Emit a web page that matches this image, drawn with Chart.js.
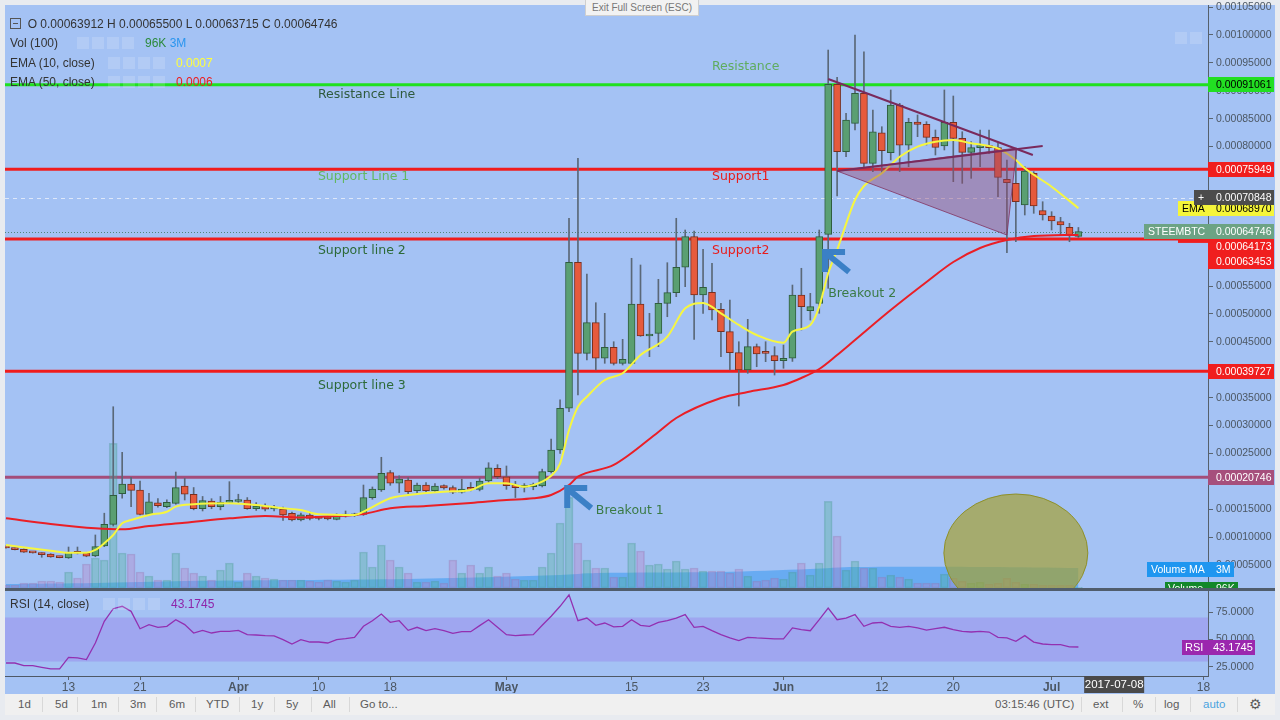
<!DOCTYPE html>
<html>
<head>
<meta charset="utf-8">
<script src="https://cdn.jsdelivr.net/npm/chart.js@4.4.0/dist/chart.umd.min.js"></script>
<style>
body { margin: 0; width: 1280px; height: 720px; background: #e8ebf0; overflow: hidden; position: relative; font-family: "Liberation Sans", Arial, sans-serif; }
#frame { position: absolute; left: 5px; top: 5px; width: 1270px; height: 689px; background: #a4c2f4; }
#mainChart { position: absolute; left: 0; top: 0; }
#rsiChart { position: absolute; left: 0; top: 590px; }
#divider { position: absolute; left: 5px; top: 588px; width: 1270px; height: 3px; background: #505d6c; }
.lg { position: absolute; font-size: 12px; line-height: 14px; color: #333; white-space: nowrap; }
.ic { position: absolute; width: 12px; height: 12px; background: rgba(255,255,255,0.16); }
#toolbar { position: absolute; left: 5px; top: 694px; width: 1270px; height: 21px; background: #f0f0f0; }
.tb { position: absolute; top: 4px; font-size: 11.5px; color: #5c5c5c; }
.sep { position: absolute; top: 3px; width: 1px; height: 15px; background: #d8d8d8; }
#exit { position: absolute; left: 585px; top: 0; width: 112px; height: 15px; background: #f2f2f2; border: 1px solid #cfcfcf; border-top: none; font-size: 10px; color: #777; text-align: center; line-height: 15px; }
</style>
</head>
<body>
<div id="frame"></div>
<canvas id="mainChart" width="1280" height="590"></canvas>
<canvas id="rsiChart" width="1280" height="103"></canvas>
<div id="divider"></div>
<div id="exit">Exit Full Screen (ESC)</div>

<div class="lg" style="top:17px;left:10px"><span style="display:inline-block;width:9px;height:9px;border:1px solid #555;vertical-align:-1px;position:relative"><span style="position:absolute;left:2px;top:4px;width:5px;height:1px;background:#555"></span></span>&nbsp;&nbsp;O 0.00063912 H 0.00065500 L 0.00063715 C 0.00064746</div>
<div class="lg" style="top:36px;left:10px">Vol (100)</div>
<div class="ic" style="top:37px;left:77px"></div><div class="ic" style="top:37px;left:92px"></div><div class="ic" style="top:37px;left:107px"></div><div class="ic" style="top:37px;left:122px"></div>
<div class="lg" style="top:36px;left:145px;color:#2c8a3c">96K <span style="color:#2a95ee">3M</span></div>
<div class="lg" style="top:56px;left:10px">EMA (10, close)</div>
<div class="ic" style="top:57px;left:108px"></div><div class="ic" style="top:57px;left:123px"></div><div class="ic" style="top:57px;left:138px"></div><div class="ic" style="top:57px;left:153px"></div>
<div class="lg" style="top:56px;left:176px;color:#ffff3c">0.0007</div>
<div class="lg" style="top:75px;left:10px">EMA (50, close)</div>
<div class="ic" style="top:76px;left:108px"></div><div class="ic" style="top:76px;left:123px"></div><div class="ic" style="top:76px;left:138px"></div><div class="ic" style="top:76px;left:153px"></div>
<div class="lg" style="top:75px;left:176px;color:#ee1c1c">0.0006</div>
<div class="ic" style="top:32px;left:1175px"></div><div class="ic" style="top:32px;left:1190px"></div>

<div class="lg" style="top:597px;left:10px">RSI (14, close)</div>
<div class="ic" style="top:598px;left:103px"></div><div class="ic" style="top:598px;left:118px"></div><div class="ic" style="top:598px;left:133px"></div><div class="ic" style="top:598px;left:148px"></div>
<div class="lg" style="top:597px;left:171px;color:#8e24aa">43.1745</div>

<div id="toolbar">
  <span class="tb" style="left:13px">1d</span><span class="sep" style="left:37px"></span>
  <span class="tb" style="left:50px">5d</span><span class="sep" style="left:72px"></span>
  <span class="tb" style="left:86px">1m</span><span class="sep" style="left:113px"></span>
  <span class="tb" style="left:125px">3m</span><span class="sep" style="left:151px"></span>
  <span class="tb" style="left:164px">6m</span><span class="sep" style="left:190px"></span>
  <span class="tb" style="left:201px">YTD</span><span class="sep" style="left:234px"></span>
  <span class="tb" style="left:246px">1y</span><span class="sep" style="left:269px"></span>
  <span class="tb" style="left:281px">5y</span><span class="sep" style="left:306px"></span>
  <span class="tb" style="left:318px">All</span><span class="sep" style="left:344px"></span>
  <span class="tb" style="left:355px">Go to...</span>
  <span class="tb" style="left:990px">03:15:46 (UTC)</span><span class="sep" style="left:1076px"></span>
  <span class="tb" style="left:1088px">ext</span><span class="sep" style="left:1117px"></span>
  <span class="tb" style="left:1128px">%</span><span class="sep" style="left:1150px"></span>
  <span class="tb" style="left:1159px">log</span><span class="sep" style="left:1185px"></span>
  <span class="tb" style="left:1198px;color:#4aa3df">auto</span><span class="sep" style="left:1232px"></span>
  <span class="tb" style="left:1244px;font-size:14px;top:2px">&#9881;</span>
</div>

<script>
// day index 0 = 2017-03-06, one candle per day, prices in satoshi (1e-8 BTC)
let tickDays = [7, 15, 26, 35, 43, 56, 70, 78, 87, 98, 106, 117, 134];
let tickLabels = ['13', '21', 'Apr', '10', '18', 'May', '15', '23', 'Jun', '12', '20', 'Jul', '18'];
let priceTicks = [5000, 10000, 15000, 20000, 25000, 30000, 35000, 40000, 45000, 50000, 55000,
    60000, 65000, 70000, 75000, 80000, 85000, 90000, 95000, 100000, 105000];
let rsiTicks = [25, 50, 75];

let opens = [8150,8000,7830,7250,7110,6990,6450,6270,7200,7170, 6630,8420,12310,17800,19530,18460,14100,16180,15470,16070,
    19170,17690,15110,16490,15470,16250,16400,16660,15110,15590, 15050,15050,14280,13080,13980,13500,13670,13200,13800,13850,
    14100,17080,18460,21560,19660,20250,18330,19350,18330,19230, 18870,18050,18870,18580,20070,22340,20840,19350,18950,19050,
    19170,21740,25630,33100,59260,42950,48440,42060,44030,41160, 41160,51790,46050,46530,51910,53820,58370,63850,53400,53880,
    50830,46830,43070,39960,44140,43070,42530,41630,42060,53400, 50590,51910,64280,91150,79080,84170,89550,77000,82480,78900,
    87450,80230,84410,83990,81660,80100,84350,81480,78970,79800, 80160,79800,74130,73410,69530,75200,68510,67560,66540,65530,
    63912];
let highs = [8200,8100,7900,7300,7200,7050,6500,8240,8240,7300, 10400,14300,33380,25210,20730,20070,17870,16900,16700,21680,
    20550,18900,17300,16900,17300,19950,17700,17100,16200,16000, 15700,15400,14500,14300,14500,13700,13800,14200,14700,14300,
    19350,19000,24320,21950,21000,20700,19700,19800,19600,19400, 19200,20400,19800,20600,23350,23000,22760,20000,19600,19700,
    22200,27600,34600,67150,77890,57160,52020,50120,45030,45460, 59980,58780,50120,56210,59190,67150,65050,64870,61590,59080,
    51910,52500,45030,49040,44620,45030,44140,44440,55190,58190, 53700,65050,97300,92410,85960,99990,97000,86550,83560,90140,
    87750,85070,85660,84460,82970,90140,89060,82660,80880,82970, 82970,80580,77590,79690,76390,75500,70120,68330,67320,66250,
    65500];
let lows = [8050,7700,7250,7150,6400,6400,6300,6200,7000,6500, 6500,8300,12000,17000,15470,14000,13900,15400,15300,15900,
    16670,14900,14700,15100,14900,16000,16100,15000,14800,14700, 14700,13000,12900,12900,13100,13100,13100,13100,13600,13700,
    13900,16800,18200,19300,18000,17800,17800,18100,18000,18600, 17800,17900,18300,18300,19800,20500,18580,17100,18100,18500,
    19000,21500,25000,32500,35480,41750,39960,41160,40860,40860, 40900,46000,42350,44140,49510,53100,54890,45460,50120,48920,
    42350,39960,33510,39370,40550,41450,39060,40270,41500,47130, 48920,50120,54600,71140,78180,82970,76390,75500,75200,77590,
    75500,76390,81770,80280,78490,79390,73710,73410,74310,76390, 78790,71020,60980,62950,67740,68040,66840,65050,64150,62950,
    63715];
let closes = [8100,7780,7300,7200,6870,6450,6350,7290,7120,6580, 8300,12310,17510,19530,18400,14100,16360,15640,16250,18870,
    17690,15110,16540,15470,16250,16400,16490,15110,15590,15000, 15150,13980,13080,14030,13380,13380,13260,13980,13900,14100,
    17080,18640,21450,19660,20430,18150,19350,18330,19170,18820, 18050,18640,18580,20070,22450,20840,19230,18870,19050,19230,
    21740,25630,33100,59260,42950,48440,42060,44030,41160,41880, 51790,46050,46300,51910,53820,58370,63850,53400,54780,50710,
    46830,43070,39960,44140,42830,42950,41630,42060,53400,51310, 51310,63850,91150,79080,84760,89550,77000,82660,79260,87450,
    80230,84350,83990,81660,79870,84350,81480,78970,79800,80160, 79800,74490,73530,70120,75620,69350,67740,66660,65950,64150,
    64746];
// volume in millions
let volumes = [0.45,0.45,0.75,0.75,1.05,1.05,0.9,2.4,1.5,3.6, 4.5,4.2,21.7,5.25,5.1,2.4,1.8,1.2,1.2,5.25,
    3.0,2.25,1.8,1.2,2.7,3.75,0.9,2.25,1.8,1.5, 1.35,1.2,1.2,1.2,1.05,0.9,1.2,1.05,0.9,1.2,
    5.4,3.15,6.45,4.2,3.15,2.25,0.9,0.9,1.05,0.75, 4.2,2.25,3.45,2.25,3.15,1.8,2.25,1.35,1.2,1.2,
    3.15,5.25,9.75,13.6,6.75,4.2,3.0,3.0,1.65,1.65, 6.75,5.55,3.45,3.6,2.85,4.05,2.85,3.0,2.55,2.55,
    2.55,2.25,2.85,1.8,1.05,1.2,1.5,1.35,2.4,3.75, 1.95,3.75,13.0,7.8,2.7,4.05,3.0,3.0,1.65,1.95,
    1.65,1.35,0.75,0.75,0.75,2.1,1.5,1.05,0.75,0.9, 0.6,0.75,1.5,0.9,0.6,0.6,0.45,0.45,0.45,0.45,
    0.096];
let volMaDays = [0, 10, 20, 33, 45, 55, 62, 66, 80, 90, 95, 110, 120];
let volMa = [0.6, 0.75, 1.05, 1.2, 1.35, 1.65, 1.95, 2.25, 2.4, 2.85, 3.15, 3.15, 3.0];

let ema10Days = [0,5,7,9,10,11,12,13,14,16,18,19,21,25,28,31,33,35,39,40,43,45,49,52,54,56,58,60,61,62,
    63,64,65,67,69,71,74,76,78,80,82,84,87,88,90,91,92,93,95,96,98,100,102,104,106,108,110,111,113,114,117,120];
let ema10 = [8600,7580,7220,7220,7710,8910,10390,12490,13080,13980,14570,15470,15890,16070,15770,15180,14870,14100,13980,14570,
    16970,17560,18150,18460,19660,19660,19050,19950,21000,23200,29210,33380,35180,38170,39370,42650,45930,51020,51970,50120,
    48030,46230,44850,46830,48030,51310,57290,61470,70430,72930,75210,78180,79980,80880,81180,80590,80100,79690,77590,76100,
    72810,68970];
let ema50Days = [0,5,10,13,16,20,25,29,33,36,40,43,47,52,56,59,61,63,64,68,73,75,80,83,87,89,91,93,95,99,103,106,109,112,115,120];
let ema50 = [13380,12360,11590,11410,12010,12600,13380,13800,13530,13710,14160,15180,15590,16130,16670,16970,17560,19350,20840,22940,
    28850,31360,34940,36020,37270,38530,40140,42650,45340,50710,55730,59310,61820,63250,63960,64173];

let rsi = [28.6,28.6,26.2,26.2,24.7,23.2,23.2,33.8,33.2,31.7, 46.8,66.5,78,80.2,75.6,59.8,63.5,61.1,62,68,
    63.5,55.9,58.3,55.9,57.4,57.4,58.3,54.4,54.1,53.5, 53.2,49.8,45.9,49.8,47.7,47.7,46.8,49.8,50.7,52,
    62,67.1,73.2,65.6,67.1,58.3,61.1,58,59.8,58, 55.6,57.1,57.1,62.6,68,61.1,54.4,53.5,54.1,54.4,
    62.9,71.1,80.2,90.7,67.1,69.5,62.9,65,61.4,62, 68,62.9,62,65.6,67.1,69.5,72.6,61.1,62,58,
    54.4,51.4,49,52,51.4,51.1,50.5,50.5,60.5,59, 58,68,78.6,68,69.5,72.6,62,65,65.6,62,
    61.1,62,60.5,58.6,59.8,61.1,59,57.4,56.8,57.4, 56.8,52,51.4,48.4,53.5,47.7,45.9,45.3,45.3,43.2,
    43.17];

// drawn levels and notes (day index / satoshi)
let levels = [
    { value: 91061, color: '#1fe01f' },
    { value: 75949, color: '#f01c1c' },
    { value: 63453, color: '#f01c1c' },
    { value: 39727, color: '#f01c1c' },
    { value: 20746, color: '#a44d7a' }
];
let notes = [
    { text: 'Resistance', day: 79.0, value: 94240, color: '#5fac5f' },
    { text: 'Resistance Line', day: 34.9, value: 89240, color: '#2f5a3d' },
    { text: 'Support Line 1', day: 34.9, value: 74540, color: '#62b862' },
    { text: 'Support1', day: 79.0, value: 74540, color: '#e81c1c' },
    { text: 'Support line 2', day: 34.9, value: 61290, color: '#2d6a39' },
    { text: 'Support2', day: 79.0, value: 61290, color: '#e81c1c' },
    { text: 'Support line 3', day: 34.9, value: 37090, color: '#2d6a39' },
    { text: 'Breakout 2', day: 92.0, value: 53540, color: '#3a7a45' },
    { text: 'Breakout 1', day: 66.0, value: 14690, color: '#3a7a45' }
];

let X_MIN = -0.11, X_MAX = 134.5;
let upFill = '#5a9f72', upLine = '#2f5d3e', downFill = '#e65a3c', downLine = '#7a3020';

let isUp = closes.map((c, i) => c >= opens[i]);
let toSat = v => (v / 1e8).toFixed(8);

let px = function (chart, day, value) {
    return [chart.scales.x.getPixelForValue(day), chart.scales.y.getPixelForValue(value)];
};

let tag = function (ctx, x1, x2, cy, bg, text, fg, tx) {
    ctx.fillStyle = bg;
    ctx.fillRect(x1, Math.round(cy - 7.5), x2 - x1, 15);
    ctx.fillStyle = fg;
    ctx.fillText(text, tx, cy + 0.5);
};

// keep tick labels from shrinking the plot area
let noPad = function (s) {
    s.paddingTop = 0;
    s.paddingBottom = 0;
};

let mainOverlay = {
    id: 'mainOverlay',
    beforeDatasetsDraw(chart) {
        let ctx = chart.ctx, a = chart.chartArea, y = chart.scales.y;
        ctx.save();
        ctx.beginPath(); ctx.rect(a.left, a.top, a.width, a.height); ctx.clip();
        // crosshair and last price guide
        ctx.lineWidth = 1;
        ctx.setLineDash([4, 4]);
        ctx.strokeStyle = 'rgba(235,240,250,0.8)';
        let cy = Math.round(y.getPixelForValue(70848)) + 0.5;
        ctx.beginPath(); ctx.moveTo(a.left, cy); ctx.lineTo(a.right, cy); ctx.stroke();
        ctx.setLineDash([1, 2]);
        ctx.strokeStyle = 'rgba(60,120,95,0.8)';
        let py = Math.round(y.getPixelForValue(64746)) + 0.5;
        ctx.beginPath(); ctx.moveTo(a.left, py); ctx.lineTo(a.right, py); ctx.stroke();
        ctx.setLineDash([]);
        levels.forEach(function (l) {
            let ly = y.getPixelForValue(l.value);
            ctx.strokeStyle = l.color; ctx.lineWidth = 3;
            ctx.beginPath(); ctx.moveTo(a.left, ly); ctx.lineTo(a.right, ly); ctx.stroke();
        });
        ctx.restore();
    },
    afterDatasetsDraw(chart) {
        let ctx = chart.ctx, a = chart.chartArea;
        ctx.save();
        ctx.beginPath(); ctx.rect(a.left, a.top, a.width, a.height); ctx.clip();

        // triangle
        let A = px(chart, 93.0, 75620), B = px(chart, 112.0, 64150), C = px(chart, 113.1, 79740);
        ctx.fillStyle = 'rgba(150,70,110,0.42)';
        ctx.strokeStyle = 'rgba(130,50,95,0.8)';
        ctx.lineWidth = 1;
        ctx.beginPath(); ctx.moveTo(A[0], A[1]); ctx.lineTo(B[0], B[1]); ctx.lineTo(C[0], C[1]); ctx.closePath();
        ctx.fill(); ctx.stroke();
        // trend lines
        ctx.strokeStyle = '#7a2a5c'; ctx.lineWidth = 2;
        let D = px(chart, 116.0, 80100);
        ctx.beginPath(); ctx.moveTo(A[0], A[1]); ctx.lineTo(D[0], D[1]); ctx.stroke();
        let E = px(chart, 92.0, 92100), F = px(chart, 114.9, 78490);
        ctx.beginPath(); ctx.moveTo(E[0], E[1]); ctx.lineTo(F[0], F[1]); ctx.stroke();

        // ellipse over recent volume
        let O = px(chart, 113.0, 7170);
        ctx.fillStyle = 'rgba(165,160,45,0.68)';
        ctx.strokeStyle = 'rgba(140,140,30,0.9)';
        ctx.lineWidth = 1;
        ctx.beginPath(); ctx.ellipse(O[0], O[1], 72, 59, 0, 0, Math.PI * 2); ctx.fill(); ctx.stroke();

        // arrows
        ctx.strokeStyle = '#3b80c6'; ctx.lineWidth = 6; ctx.lineCap = 'butt'; ctx.lineJoin = 'miter';
        [[62.8, 18800], [91.65, 61100]].forEach(function (p) {
            let t = px(chart, p[0], p[1]);
            ctx.beginPath();
            ctx.moveTo(t[0] + 20, t[1]); ctx.lineTo(t[0], t[1]); ctx.lineTo(t[0], t[1] + 20);
            ctx.stroke();
            ctx.beginPath(); ctx.moveTo(t[0] + 2, t[1] + 2); ctx.lineTo(t[0] + 24, t[1] + 20); ctx.stroke();
        });

        // notes
        ctx.font = '12.5px "DejaVu Sans"';
        ctx.textBaseline = 'middle'; ctx.textAlign = 'left';
        notes.forEach(function (n) {
            let p = px(chart, n.day, n.value);
            ctx.fillStyle = n.color;
            ctx.fillText(n.text, p[0], p[1]);
        });
        ctx.restore();
    },
    afterDraw(chart) {
        let ctx = chart.ctx, a = chart.chartArea, y = chart.scales.y;
        let x1 = a.right, x2 = a.right + 66, tx = a.right + 8;
        ctx.save();
        ctx.font = '10.5px "Liberation Sans"';
        ctx.textBaseline = 'middle'; ctx.textAlign = 'left';
        let at = v => y.getPixelForValue(v);
        tag(ctx, x1, x2, at(91061), '#22df22', toSat(91061), '#000', tx);
        tag(ctx, x1, x2, at(75949), '#f01e1e', toSat(75949), '#fff', tx);
        tag(ctx, x1, x2, at(39727), '#f01e1e', toSat(39727), '#fff', tx);
        tag(ctx, x1, x2, at(20746), '#a64f7c', toSat(20746), '#fff', tx);
        tag(ctx, 1178, x1, at(68970), '#f5f53a', 'EMA', '#000', 1182);
        tag(ctx, x1, x2, at(68970), '#f5f53a', toSat(68970), '#000', tx);
        tag(ctx, 1194, x1, at(70848), '#4c4c4c', '+', '#fff', 1198);
        tag(ctx, x1, x2, at(70848), '#4c4c4c', toSat(70848), '#fff', tx);
        ctx.fillStyle = '#f01e1e';
        ctx.fillRect(1178, at(63453) - 2, 30, 6);
        tag(ctx, 1144, x1, at(64746), '#6ca384', 'STEEMBTC', '#fff', 1148);
        tag(ctx, x1, x2, at(64746), '#6ca384', toSat(64746), '#fff', tx);
        tag(ctx, x1, x2, at(64746) + 15, '#f01e1e', toSat(64173), '#fff', tx);
        tag(ctx, x1, x2, at(64746) + 30, '#f01e1e', toSat(63453), '#fff', tx);
        let vy = chart.scales.yv;
        tag(ctx, 1147, x1, vy.getPixelForValue(3.0) + 2, '#1f96f0', 'Volume MA', '#fff', 1151);
        tag(ctx, x1, x1 + 26, vy.getPixelForValue(3.0) + 2, '#1f96f0', '3M', '#fff', tx);
        tag(ctx, 1165, x1, a.bottom + 1, '#12882a', 'Volume', '#fff', 1168);
        tag(ctx, x1, x1 + 30, a.bottom + 1, '#12882a', '96K', '#fff', tx);
        ctx.restore();
    }
};

let rsiOverlay = {
    id: 'rsiOverlay',
    beforeDatasetsDraw(chart) {
        let ctx = chart.ctx, a = chart.chartArea, y = chart.scales.y;
        let t = y.getPixelForValue(70), b = y.getPixelForValue(30);
        ctx.save();
        ctx.fillStyle = 'rgba(150,110,235,0.33)';
        ctx.fillRect(a.left, t, a.width, b - t);
        ctx.restore();
    },
    afterDraw(chart) {
        let ctx = chart.ctx, a = chart.chartArea, y = chart.scales.y, x = chart.scales.x;
        ctx.save();
        ctx.font = '11px "Liberation Sans"';
        ctx.textBaseline = 'middle'; ctx.textAlign = 'left';
        let ry = y.getPixelForValue(rsi[rsi.length - 1]);
        tag(ctx, 1182, a.right, ry, '#9b27ae', 'RSI', '#fff', 1185);
        tag(ctx, a.right, a.right + 47, ry, '#9b27ae', '43.1745', '#fff', a.right + 5);
        let dx = x.getPixelForValue(124);
        ctx.fillStyle = '#4a4a4a';
        ctx.fillRect(dx - 30, a.bottom, 60, 17);
        ctx.fillStyle = '#fff';
        ctx.font = '11.5px "Liberation Sans"';
        ctx.textAlign = 'center';
        ctx.fillText('2017-07-08', dx, a.bottom + 9);
        ctx.restore();
    }
};

let mainDraw = function () {
    let ctx = document.getElementById('mainChart').getContext('2d');
    window.mainChart = new Chart(ctx, {
        data: {
            datasets: [
                {
                    type: 'line', yAxisID: 'yv', order: 10,
                    data: volMaDays.map((d, i) => ({ x: d, y: volMa[i] })),
                    borderWidth: 0, pointRadius: 0, fill: 'origin', tension: 0.3,
                    backgroundColor: 'rgba(30,145,240,0.45)'
                },
                {
                    type: 'bar', yAxisID: 'yv', order: 9, grouped: false, barThickness: 8,
                    data: volumes.map((v, i) => ({ x: i, y: v })),
                    backgroundColor: isUp.map(u => u ? 'rgba(70,175,140,0.3)' : 'rgba(190,120,190,0.3)'),
                    borderColor: isUp.map(u => u ? 'rgba(70,150,140,0.35)' : 'rgba(150,110,170,0.35)'),
                    borderWidth: 1, borderSkipped: false
                },
                {
                    type: 'bar', order: 6, grouped: false, barThickness: 1,
                    data: lows.map((l, i) => ({ x: i, y: [l, highs[i]] })),
                    backgroundColor: '#5a6878'
                },
                {
                    type: 'bar', order: 5, grouped: false, barThickness: 7, minBarLength: 2,
                    data: opens.map((o, i) => ({ x: i, y: [o, closes[i]] })),
                    backgroundColor: isUp.map(u => u ? upFill : downFill),
                    borderColor: isUp.map(u => u ? upLine : downLine),
                    borderWidth: 1, borderSkipped: false
                },
                {
                    type: 'line', order: 2,
                    data: ema50Days.map((d, i) => ({ x: d, y: ema50[i] })),
                    borderColor: '#ea1f26', borderWidth: 2, pointRadius: 0, cubicInterpolationMode: 'monotone'
                },
                {
                    type: 'line', order: 1,
                    data: ema10Days.map((d, i) => ({ x: d, y: ema10[i] })),
                    borderColor: '#f6f640', borderWidth: 2, pointRadius: 0, cubicInterpolationMode: 'monotone'
                }
            ]
        },
        options: {
            responsive: false,
            animation: false,
            devicePixelRatio: 1,
            layout: { padding: { left: 5, right: 5, top: 5, bottom: 2 } },
            plugins: { legend: { display: false }, tooltip: { enabled: false } },
            scales: {
                x: { type: 'linear', min: X_MIN, max: X_MAX, offset: false, display: false },
                y: {
                    position: 'right', min: 896, max: 105370,
                    afterFit: function (s) { s.width = 67; noPad(s); },
                    afterBuildTicks: function (s) { s.ticks = priceTicks.map(v => ({ value: v })); },
                    ticks: { callback: v => toSat(v), color: '#4c5763', font: { family: 'Liberation Sans', size: 10.5 }, padding: 3, autoSkip: false },
                    grid: { drawOnChartArea: false, drawTicks: true, tickLength: 5, color: '#5a6570' },
                    border: { display: true, color: '#56606b' }
                },
                yv: { display: false, min: 0, max: 87.4 }
            }
        },
        plugins: [mainOverlay]
    });
};

let rsiDraw = function () {
    let ctx = document.getElementById('rsiChart').getContext('2d');
    window.rsiChart = new Chart(ctx, {
        type: 'line',
        data: {
            datasets: [{
                data: rsi.map((v, i) => ({ x: i, y: v })),
                borderColor: '#9330b0', borderWidth: 1.3, pointRadius: 0, tension: 0
            }]
        },
        options: {
            responsive: false,
            animation: false,
            devicePixelRatio: 1,
            layout: { padding: { left: 5, right: 5, top: 1, bottom: 0 } },
            plugins: { legend: { display: false }, tooltip: { enabled: false } },
            scales: {
                x: {
                    type: 'linear', min: X_MIN, max: X_MAX, offset: false,
                    afterFit: function (s) { s.height = 17; },
                    afterBuildTicks: function (s) { s.ticks = tickDays.map(v => ({ value: v })); },
                    ticks: {
                        autoSkip: false, maxRotation: 0, padding: 0, color: '#4c5763',
                        callback: function (v) { return tickLabels[tickDays.indexOf(v)]; },
                        font: function (c) {
                            let bold = [2, 5, 8, 11].indexOf(c.index) >= 0;
                            return { family: 'Liberation Sans', size: 12, weight: bold ? 'bold' : 'normal' };
                        }
                    },
                    grid: { drawOnChartArea: false, drawTicks: true, tickLength: 4, color: '#5a6570' },
                    border: { display: true, color: '#4e5966' }
                },
                y: {
                    position: 'right', min: 16.8, max: 94.1,
                    afterFit: function (s) { s.width = 67; noPad(s); },
                    afterBuildTicks: function (s) { s.ticks = rsiTicks.map(v => ({ value: v })); },
                    ticks: { callback: v => v.toFixed(4), color: '#4c5763', font: { family: 'Liberation Sans', size: 10.5 }, padding: 3 },
                    grid: { drawOnChartArea: false, drawTicks: true, tickLength: 5, color: '#5a6570' },
                    border: { display: true, color: '#56606b' }
                }
            }
        },
        plugins: [rsiOverlay]
    });
};

window.addEventListener('load', function () {
    mainDraw();
    rsiDraw();
});
</script>
</body>
</html>
